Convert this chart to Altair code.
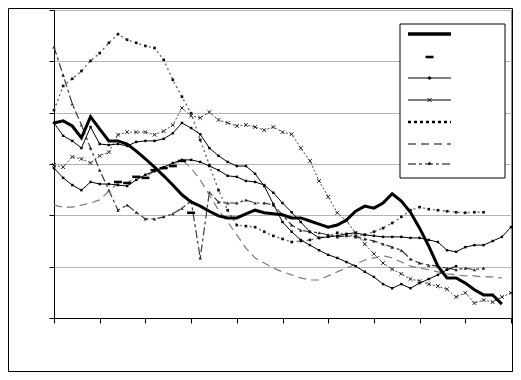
import altair as alt
import pandas as pd

# Series values (index 0..50 along x, value scale 0..60)
thick = [38.0, 38.4, 37.4, 35.1, 39.2, 36.8, 34.5, 34.5, 33.9, 32.5, 31.0, 29.4, 27.7, 25.9, 24.0,
         22.6, 21.8, 20.8, 19.9, 19.5, 19.5, 20.3, 21.0, 20.5, 20.3, 20.1, 19.5, 19.5, 18.9, 18.3,
         17.7, 18.1, 19.1, 20.8, 21.8, 21.4, 22.4, 24.2, 22.8, 20.6, 17.5, 14.0, 10.1, 7.8, 7.8,
         6.8, 5.5, 4.5, 4.5, 2.7]
dash_marks = [None, None, None, None, None, None, None, 26.5, 26.3, 27.5, 27.3, 28.8, 29.2, 29.6, 30.6, 20.5]
plus_line = [38.0, 35.5, 34.5, 33.1, 37.2, 33.9, 33.7, 33.9, 33.5, 34.3, 34.5, 34.5, 34.9, 36.0, 38.0,
             37.0, 35.8, 33.1, 31.6, 30.4, 29.6, 29.6, 28.1, 25.7, 22.2, 18.7, 16.8, 15.2, 14.2, 13.2,
             12.3, 11.7, 10.9, 10.1, 9.0, 8.0, 6.6, 5.8, 6.6, 5.8, 6.8, 7.6, 8.4, 9.4, 10.1]
solid_low = [29.2, 27.3, 25.9, 24.9, 26.5, 26.1, 26.1, 25.9, 25.7, 26.9, 27.9, 28.6, 29.4, 30.2, 30.8,
             30.8, 30.4, 29.6, 28.8, 27.7, 27.5, 26.7, 26.5, 25.9, 24.4, 22.4, 20.6, 18.7, 16.8, 15.6,
             15.8, 16.0, 16.4, 16.6, 16.2, 16.0, 15.8, 15.8, 15.8, 15.6, 15.6, 15.2, 14.8, 13.2, 12.9,
             13.8, 14.2, 14.2, 15.0, 15.8, 17.7]
cross_line = [29.8, 29.4, 31.4, 31.0, 30.2, 31.6, 32.3, 35.7, 36.2, 36.2, 36.2, 35.7, 36.4, 37.6, 40.9,
              39.4, 39.0, 40.1, 38.6, 38.0, 37.4, 37.6, 37.2, 36.6, 37.2, 36.2, 35.8, 33.1, 30.6, 26.7,
              23.6, 20.5, 18.9, 16.6, 14.4, 12.5, 10.7, 9.5, 8.6, 7.6, 7.2, 6.6, 6.2, 5.6, 4.1,
              4.9, 2.9, 3.5, 3.1, 4.1, 4.9]
dotted = [40.5, 45.2, 46.6, 48.1, 50.1, 51.6, 53.6, 55.3, 54.2, 53.6, 53.0, 52.6, 50.3, 46.4, 43.1,
          39.9, 34.7, 29.8, 24.9, 21.0, 18.1, 17.9, 17.7, 16.8, 16.0, 15.4, 14.8, 15.0, 15.2, 15.6,
          16.0, 16.6, 16.2, 16.0, 16.2, 16.8, 17.5, 18.5, 19.7, 21.0, 21.6, 21.2, 21.0, 20.8, 20.6,
          20.5, 20.6, 20.6]
long_dash = [22.0, 21.6, 21.6, 22.0, 22.4, 23.0, 24.7, 26.3, 26.3, 27.5, 27.5, 28.6, 29.2, 29.8, 30.8,
             29.2, 26.9, 24.0, 21.0, 18.7, 16.2, 13.6, 11.7, 10.7, 9.7, 9.0, 8.4, 7.8, 7.4, 7.4,
             8.2, 9.0, 9.7, 10.5, 11.3, 11.7, 12.1, 11.7, 10.9, 10.1, 9.7, 9.4, 9.0, 8.6, 8.4,
             8.2, 8.2, 8.0, 8.0, 7.8]
dash_dot = [52.8, 47.3, 41.7, 37.6, 33.1, 28.8, 24.9, 21.0, 22.0, 20.6, 19.3, 19.3, 19.7, 20.3, 21.4,
            22.8, 11.7, 24.5, 22.6, 22.4, 22.4, 23.0, 22.4, 22.4, 22.0, 20.1, 18.1, 17.1, 16.8, 16.6,
            16.2, 15.8, 16.0, 15.8, 15.4, 15.0, 14.4, 13.8, 13.2, 11.5, 10.7, 10.3, 10.1, 9.7, 9.4,
            9.7, 9.4, 9.7]

x_ticks = list(range(0, 51, 5))
y_ticks = [0, 10, 20, 30, 40, 50, 60]

W, H = 457, 308
xs = alt.Scale(domain=[0, 50], nice=False, zero=False)
ys = alt.Scale(domain=[0, 60], nice=False, zero=False)
ax_x = alt.Axis(values=x_ticks, labels=False, title=None, grid=False, tickSize=5,
                domainColor="black", tickColor="black", domainWidth=1, tickWidth=1)
ax_y = alt.Axis(values=y_ticks, labels=False, title=None, grid=True, gridColor="#b4b4b4",
                tickSize=5, domainColor="black", tickColor="black", domainWidth=1, tickWidth=1)


def frame(vals):
    rows = [{"t": i, "v": v} for i, v in enumerate(vals) if v is not None]
    return pd.DataFrame(rows)


def base(vals):
    return alt.Chart(frame(vals)).encode(
        x=alt.X("t:Q", scale=xs, axis=ax_x),
        y=alt.Y("v:Q", scale=ys, axis=ax_y),
    )


XSHAPE = "M-1,-1L1,1M-1,1L1,-1"
DASHSHAPE = "M-1,-0.32L1,-0.32L1,0.32L-1,0.32Z"

layers = []
# dash-dot with triangles
layers.append(base(dash_dot).mark_line(color="#3a3a3a", strokeWidth=1.2, strokeDash=[8, 3, 3, 3]))
layers.append(base(dash_dot).mark_point(shape="triangle-up", size=12, filled=True, color="#222", opacity=1))
# long dash
layers.append(base(long_dash).mark_line(color="#7a7a7a", strokeWidth=1.2, strokeDash=[8, 5]))
# dotted with squares
layers.append(base(dotted).mark_line(color="#6a6a6a", strokeWidth=1.4, strokeDash=[2, 3]))
layers.append(base(dotted).mark_point(shape="square", size=7, filled=True, color="#111", opacity=1))
# cross series
layers.append(base(cross_line).mark_line(color="#444", strokeWidth=1, strokeDash=[2, 2]))
layers.append(base(cross_line).mark_point(shape=XSHAPE, size=14, filled=False, color="#222",
                                          strokeWidth=1, opacity=1))
# solid lines with small markers
layers.append(base(solid_low).mark_line(color="black", strokeWidth=1))
layers.append(base(solid_low).mark_point(shape="square", size=6, filled=True, color="black", opacity=1))
layers.append(base(plus_line).mark_line(color="black", strokeWidth=1))
layers.append(base(plus_line).mark_point(shape="square", size=6, filled=True, color="black", opacity=1))
# dash markers only
layers.append(base(dash_marks).mark_point(shape=DASHSHAPE, size=64, filled=True, color="black", opacity=1))
# thick line
layers.append(base(thick).mark_line(color="black", strokeWidth=3))

# legend (plot-area pixel coordinates)
leg = []
leg.append(alt.Chart().mark_rect(fill="white", stroke="black", strokeWidth=1).encode(
    x=alt.value(346), x2=alt.value(451), y=alt.value(14), y2=alt.value(168)))
lx1, lx2, lxc = 354, 397, 375.5
leg.append(alt.Chart().mark_rule(color="black", strokeWidth=3.5).encode(
    x=alt.value(lx1), x2=alt.value(lx2), y=alt.value(24)))
leg.append(alt.Chart().mark_point(shape=DASHSHAPE, size=64, filled=True, color="black", opacity=1).encode(
    x=alt.value(lxc), y=alt.value(47)))
leg.append(alt.Chart().mark_rule(color="black", strokeWidth=1).encode(
    x=alt.value(lx1), x2=alt.value(lx2), y=alt.value(68)))
leg.append(alt.Chart().mark_point(shape="cross", size=14, filled=True, color="black", opacity=1).encode(
    x=alt.value(lxc), y=alt.value(68)))
leg.append(alt.Chart().mark_rule(color="black", strokeWidth=1).encode(
    x=alt.value(lx1), x2=alt.value(lx2), y=alt.value(90)))
leg.append(alt.Chart().mark_point(shape=XSHAPE, size=14, filled=False, color="black",
                                  strokeWidth=1, opacity=1).encode(x=alt.value(lxc), y=alt.value(90)))
leg.append(alt.Chart().mark_rule(color="black", strokeWidth=2.5, strokeDash=[3, 3]).encode(
    x=alt.value(lx1), x2=alt.value(lx2), y=alt.value(112)))
leg.append(alt.Chart().mark_rule(color="black", strokeWidth=1, strokeDash=[8, 5]).encode(
    x=alt.value(lx1), x2=alt.value(lx2), y=alt.value(134)))
leg.append(alt.Chart().mark_rule(color="black", strokeWidth=1, strokeDash=[8, 3, 3, 3]).encode(
    x=alt.value(lx1), x2=alt.value(lx2), y=alt.value(154)))
leg.append(alt.Chart().mark_point(shape="triangle-up", size=14, filled=True, color="black", opacity=1).encode(
    x=alt.value(lxc), y=alt.value(153)))
# outer frame
leg.append(alt.Chart().mark_rect(fillOpacity=0, stroke="black", strokeWidth=1).encode(
    x=alt.value(-45.5), x2=alt.value(458.5), y=alt.value(-1.5), y2=alt.value(361.5)))

chart = alt.layer(*layers, *leg).properties(
    width=W, height=H,
    autosize=alt.AutoSizeParams(type="none"),
    padding={"left": 46, "top": 2, "right": 2, "bottom": 54},
).configure_view(stroke="#8c8c8c", strokeWidth=1)

chart.save("out.html", embed_options={"renderer": "svg", "actions": False})
